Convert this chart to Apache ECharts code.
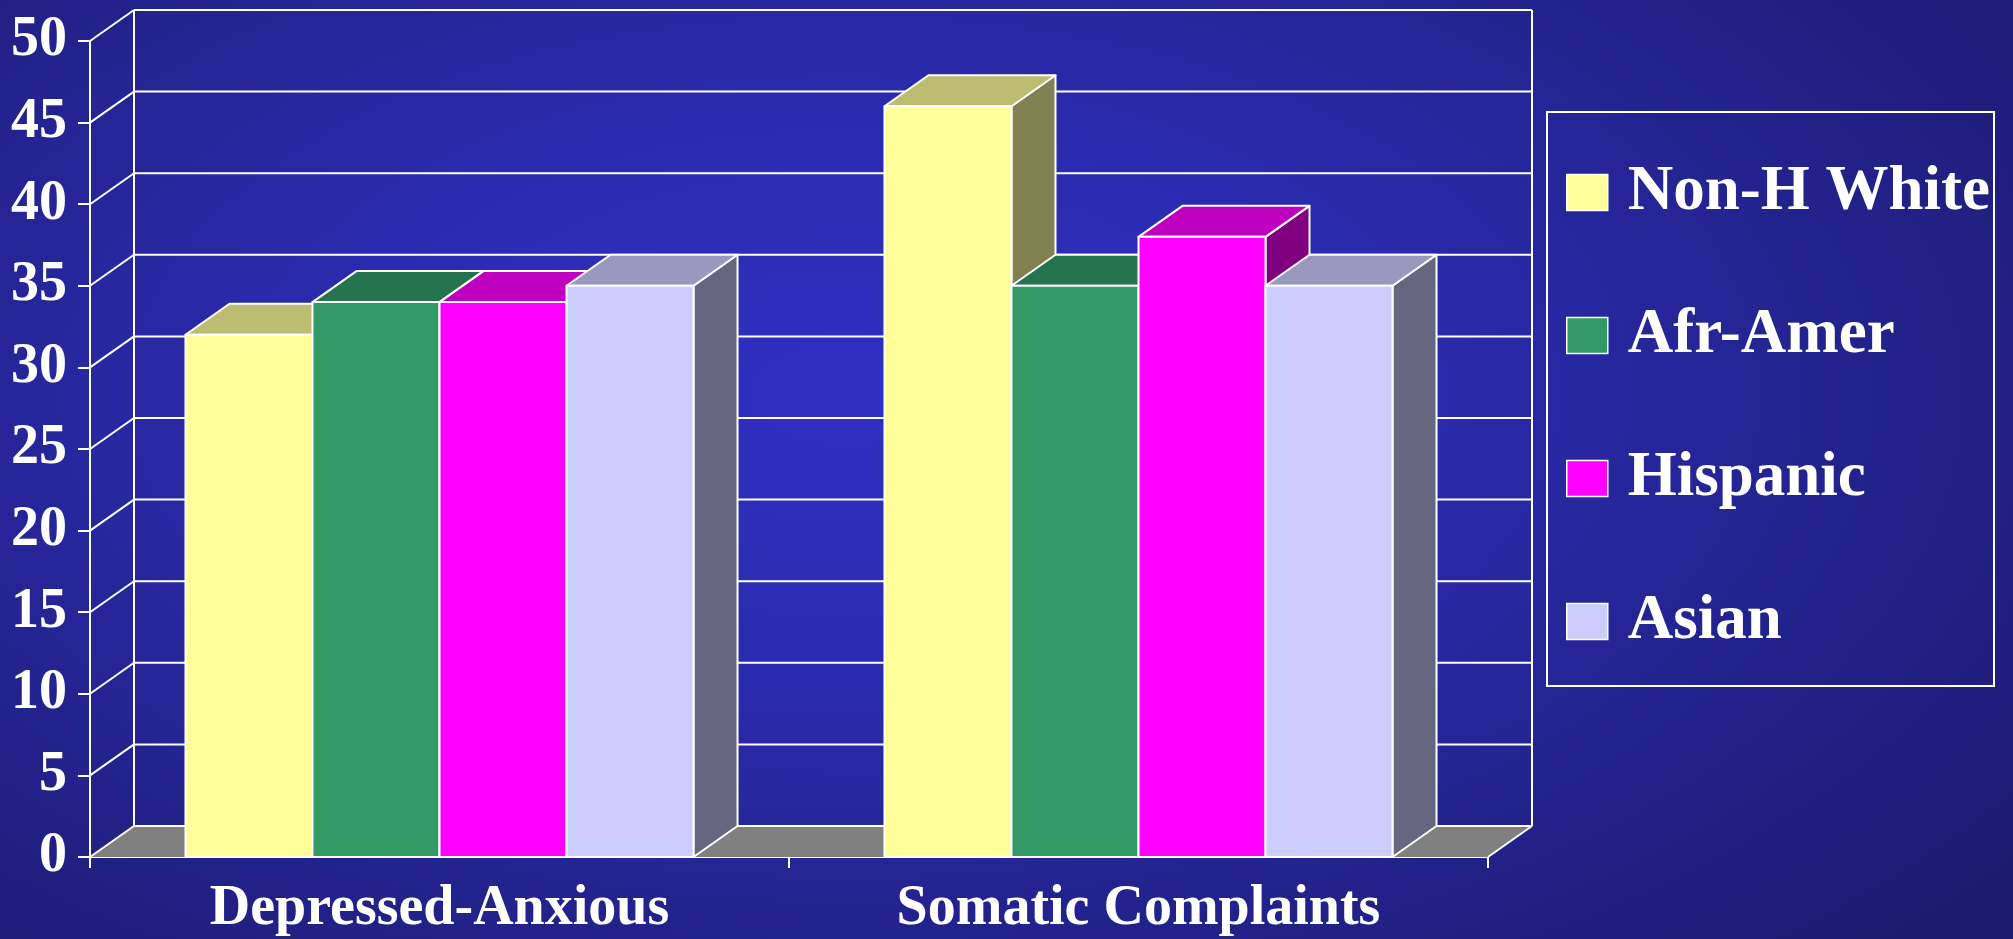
<!DOCTYPE html>
<html>
<head>
<meta charset="utf-8">
<title>Depressed-Anxious / Somatic Complaints</title>
<script src="https://cdn.jsdelivr.net/npm/echarts@6/dist/echarts.min.js"></script>
<style>
html, body {
    margin: 0;
    padding: 0;
    width: 2013px;
    height: 939px;
    overflow: hidden;
}
#chart {
    width: 2013px;
    height: 939px;
    background: radial-gradient(ellipse 75% 85% at 42% 42%, #2f2fc2 0%, #2b2bb0 35%, #23238f 65%, #1c1a6e 100%);
}
</style>
</head>
<body>
<div id="chart"></div>
<script>
var categories = ['Depressed-Anxious', 'Somatic Complaints'];
var groupNames = ['Non-H White', 'Afr-Amer', 'Hispanic', 'Asian'];

var nonHWhite = [32, 46];
var afrAmer   = [34, 35];
var hispanic  = [34, 38];
var asian     = [35, 35];

var yTicks = [0, 5, 10, 15, 20, 25, 30, 35, 40, 45, 50];

// front / top / side colours of each box
var faceColors = [
    ['#FFFF99', '#BDBD72', '#808050'],
    ['#339966', '#267350', '#1A4D33'],
    ['#FF00FF', '#BF00BF', '#800080'],
    ['#CCCCFF', '#9999BF', '#666680']
];

var DX = 44, DY = -31;          // depth of the 3d box
var BAR_SHARE = 0.1817;         // one bar as part of a category band
var FONT = '"Liberation Serif", "Times New Roman", serif';

var chart = echarts.init(document.getElementById('chart'));

function line(x1, y1, x2, y2) {
    return {
        type: 'line',
        shape: {x1: x1, y1: y1, x2: x2, y2: y2},
        style: {stroke: '#ffffff', lineWidth: 2}
    };
}

// back wall, floor and the slanted grid lines
function renderFrame(params, api) {
    var cs = params.coordSys;
    var x0 = cs.x, x1 = cs.x + cs.width;
    var v = api.value(1);
    var y = api.coord([0, v])[1];
    var kids = [];
    if (v === 0) {
        kids.push({
            type: 'polygon',
            shape: {points: [[x0, y], [x0 + DX, y + DY], [x1 + DX, y + DY], [x1, y]]},
            style: {fill: '#808080'}
        });
        kids.push(line(x1, y, x1 + DX, y + DY));
    }
    kids.push(line(x0, y, x0 + DX, y + DY));
    kids.push(line(x0 + DX, y + DY, x1 + DX, y + DY));
    if (v === yTicks[yTicks.length - 1]) {
        var yb = api.coord([0, 0])[1];
        kids.push(line(x0 + DX, yb + DY, x0 + DX, y + DY));
        kids.push(line(x1 + DX, yb + DY, x1 + DX, y + DY));
    }
    return {type: 'group', children: kids};
}

function makeBarRender(idx) {
    return function (params, api) {
        var cat = api.value(0);
        var band = api.size([1, 0])[0];
        var w = band * BAR_SHARE;
        var center = api.coord([cat, 0])[0];
        var l = center - 2 * w + idx * w;
        var r = l + w;
        var yTop = api.coord([cat, api.value(1)])[1];
        var yBot = api.coord([cat, 0])[1];
        var c = faceColors[idx];
        var edge = {stroke: '#ffffff', lineWidth: 2, lineJoin: 'round'};
        return {
            type: 'group',
            children: [
                {
                    type: 'polygon',
                    shape: {points: [[r, yTop], [r + DX, yTop + DY], [r + DX, yBot + DY], [r, yBot]]},
                    style: echarts.util.extend({fill: c[2]}, edge)
                },
                {
                    type: 'polygon',
                    shape: {points: [[l, yTop], [l + DX, yTop + DY], [r + DX, yTop + DY], [r, yTop]]},
                    style: echarts.util.extend({fill: c[1]}, edge)
                },
                {
                    type: 'rect',
                    shape: {x: l, y: yTop, width: w, height: yBot - yTop},
                    style: echarts.util.extend({fill: c[0]}, edge)
                }
            ]
        };
    };
}

function pairs(values) {
    var out = [];
    for (var i = 0; i < values.length; i++) {
        out.push([i, values[i]]);
    }
    return out;
}

var seriesValues = [nonHWhite, afrAmer, hispanic, asian];
var frameData = [];
for (var t = 0; t < yTicks.length; t++) {
    frameData.push([0, yTicks[t]]);
}

var series = [
    {
        name: 'frame',
        type: 'custom',
        silent: true,
        clip: false,
        animation: false,
        renderItem: renderFrame,
        encode: {x: 0, y: 1},
        data: frameData
    }
];
for (var s = 0; s < seriesValues.length; s++) {
    series.push({
        name: groupNames[s],
        type: 'custom',
        clip: false,
        animation: false,
        itemStyle: {color: faceColors[s][0]},
        renderItem: makeBarRender(s),
        encode: {x: 0, y: 1},
        data: pairs(seriesValues[s])
    });
}

var option = {
    backgroundColor: 'transparent',
    animation: false,
    grid: {
        left: 90,
        top: 41,
        right: 525,
        bottom: 82
    },
    legend: {
        orient: 'vertical',
        left: 1547,
        top: 112,
        data: groupNames,
        icon: 'rect',
        itemWidth: 41,
        itemHeight: 36,
        itemGap: 80,
        padding: [49, 4, 33, 19],
        borderColor: '#ffffff',
        borderWidth: 2,
        selectedMode: false,
        itemStyle: {
            borderColor: '#ffffff',
            borderWidth: 1.5
        },
        textStyle: {
            color: '#ffffff',
            fontFamily: FONT,
            fontWeight: 'bold',
            fontSize: 63,
            lineHeight: 63,
            padding: [0, 0, 0, 15]
        }
    },
    xAxis: [
        {
            type: 'category',
            boundaryGap: true,
            data: categories,
            axisLine: {
                show: true,
                lineStyle: {color: '#ffffff', width: 2}
            },
            axisTick: {
                show: true,
                length: 11,
                lineStyle: {color: '#ffffff', width: 2}
            },
            axisLabel: {
                color: '#ffffff',
                fontFamily: FONT,
                fontWeight: 'bold',
                fontSize: 56,
                lineHeight: 56,
                margin: 25
            },
            splitLine: {show: false}
        }
    ],
    yAxis: [
        {
            type: 'value',
            min: 0,
            max: 50,
            interval: 5,
            axisLine: {
                show: true,
                lineStyle: {color: '#ffffff', width: 2}
            },
            axisTick: {
                show: true,
                inside: false,
                length: 12,
                lineStyle: {color: '#ffffff', width: 2}
            },
            axisLabel: {
                color: '#ffffff',
                fontFamily: FONT,
                fontWeight: 'bold',
                fontSize: 56,
                margin: 23
            },
            splitLine: {show: false}
        }
    ],
    series: series
};

chart.setOption(option);

window.onresize = function () {
    chart.resize();
};
</script>
</body>
</html>
